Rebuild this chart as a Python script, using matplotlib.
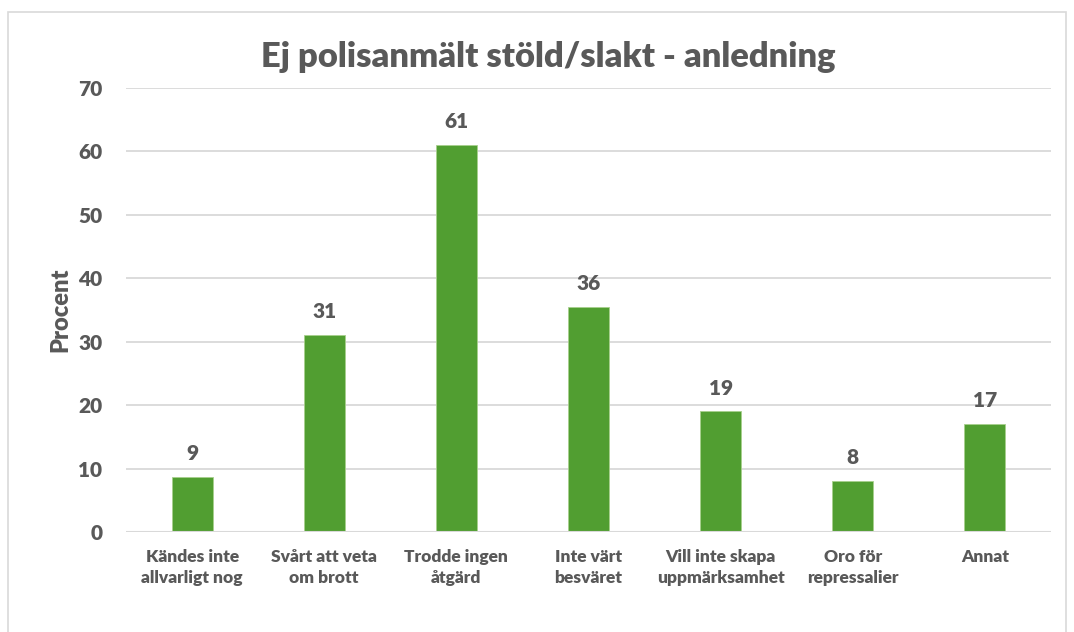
import numpy as np
import matplotlib.pyplot as plt
from matplotlib.patches import Rectangle

categories = ["Kändes inte\nallvarligt nog", "Svårt att veta\nom brott", "Trodde ingen\nåtgärd",
              "Inte värt\nbesväret", "Vill inte skapa\nuppmärksamhet", "Oro för\nrepressalier", "Annat"]
values = [8.7, 31, 61, 35.5, 19, 8, 17]
yticks = [0, 10, 20, 30, 40, 50, 60, 70]

green = "#519E31"
textc = "#595959"
gridc = "#D9D9D9"

plt.rcParams['font.family'] = ['Lato', 'DejaVu Sans']
plt.rcParams['font.weight'] = 'bold'

fig = plt.figure(figsize=(10.74, 6.32), dpi=100)
# chart border
fig.patches.append(Rectangle((8 / 1074, -0.1), (1066 - 8) / 1074, 1.1 - 12 / 632,
                             transform=fig.transFigure, fill=False, edgecolor=gridc, lw=1.2))

ax = fig.add_axes([126 / 1074, 1 - 532 / 632, (1051 - 126) / 1074, (532 - 88) / 632])
x = np.arange(len(categories))
ax.bar(x, values, width=0.31, color=green, edgecolor="#A8D08D", linewidth=0.6, zorder=3)
for xi, v in zip(x, values):
    ax.text(xi, v + 2.2, f"{round(v)}", ha="center", va="bottom", fontsize=15,
            fontweight="heavy", color=textc)

ax.set_xlim(-0.5, len(categories) - 0.5)
ax.set_ylim(0, 70)
ax.set_yticks(yticks)
ax.set_yticklabels([str(t) for t in yticks], fontsize=15, fontweight="heavy", color=textc)
ax.set_xticks(x)
ax.set_xticklabels(categories, fontsize=12.5, fontweight="heavy", color=textc, linespacing=1.4)
ax.tick_params(axis="both", length=0)
ax.tick_params(axis="y", pad=17)
ax.tick_params(axis="x", pad=12)
ax.yaxis.grid(True, color=gridc, lw=1.3, zorder=0)
for s in ax.spines.values():
    s.set_visible(False)
ax.axhline(0, color=gridc, lw=1.5, zorder=4)

ax.set_ylabel("Procent", fontsize=17, fontweight="heavy", color=textc, labelpad=5)
fig.text(548 / 1074, 1 - 57 / 632, "Ej polisanmält stöld/slakt - anledning", ha="center", va="center",
         fontsize=24.8, fontweight="heavy", color=textc)

fig.savefig("out.png", dpi=100)
